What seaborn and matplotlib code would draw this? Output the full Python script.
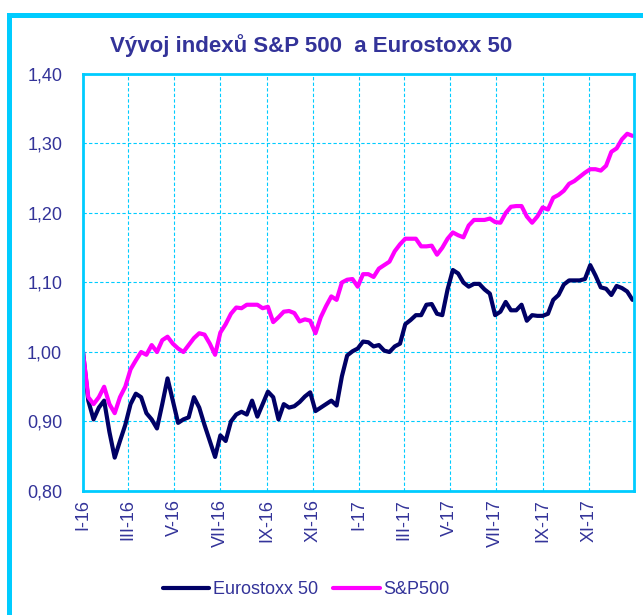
import numpy as np
import pandas as pd
import matplotlib
matplotlib.use('Agg')
import matplotlib.pyplot as plt
import matplotlib.dates as mdates
from matplotlib import font_manager
from matplotlib.patches import Rectangle
import seaborn as sns

# weekly index values, normalised to 1 at start of 2016
eurostoxx = [
    1.000, 0.930, 0.903, 0.920, 0.930, 0.885, 0.848, 0.872, 0.895, 0.925,
    0.940, 0.935, 0.912, 0.903, 0.890, 0.925, 0.962, 0.930, 0.898, 0.903,
    0.906, 0.935, 0.920, 0.895, 0.872, 0.849, 0.880, 0.872, 0.900, 0.910,
    0.914, 0.910, 0.930, 0.907, 0.925, 0.943, 0.935, 0.903, 0.925, 0.920,
    0.922, 0.928, 0.936, 0.942, 0.915, 0.920, 0.925, 0.930, 0.923, 0.965,
    0.995, 1.001, 1.005, 1.015, 1.014, 1.008, 1.010, 1.002, 1.000, 1.008,
    1.012, 1.040, 1.046, 1.053, 1.053, 1.068, 1.069, 1.055, 1.053, 1.090,
    1.118, 1.113, 1.100, 1.094, 1.098, 1.098, 1.090, 1.084, 1.053, 1.058,
    1.072, 1.060, 1.060, 1.068, 1.045, 1.053, 1.052, 1.052, 1.055, 1.075,
    1.082, 1.097, 1.103, 1.103, 1.103, 1.105, 1.125, 1.110, 1.093, 1.091,
    1.082, 1.095, 1.092, 1.087, 1.075]
sp500 = [
    1.000, 0.935, 0.925, 0.935, 0.950, 0.925, 0.912, 0.935, 0.950, 0.975,
    0.988, 1.000, 0.996, 1.010, 1.000, 1.017, 1.022, 1.012, 1.005, 1.000,
    1.010, 1.020, 1.027, 1.025, 1.012, 0.996, 1.028, 1.040, 1.055, 1.064,
    1.063, 1.068, 1.068, 1.068, 1.063, 1.065, 1.043, 1.050, 1.058, 1.059,
    1.056, 1.044, 1.047, 1.045, 1.027, 1.050, 1.066, 1.080, 1.075, 1.100,
    1.104, 1.105, 1.094, 1.112, 1.112, 1.108, 1.120, 1.125, 1.130, 1.145,
    1.155, 1.163, 1.163, 1.163, 1.152, 1.152, 1.153, 1.140, 1.150, 1.163,
    1.172, 1.168, 1.165, 1.182, 1.190, 1.190, 1.190, 1.192, 1.187, 1.186,
    1.200, 1.209, 1.210, 1.210, 1.195, 1.186, 1.195, 1.208, 1.205, 1.222,
    1.226, 1.232, 1.242, 1.246, 1.252, 1.258, 1.263, 1.263, 1.261, 1.268,
    1.288, 1.293, 1.306, 1.314, 1.311]
series_names = ['Eurostoxx 50', 'S&P500']

month_ticks = ['2016-01-01', '2016-03-01', '2016-05-01', '2016-07-01',
               '2016-09-01', '2016-11-01', '2017-01-01', '2017-03-01',
               '2017-05-01', '2017-07-01', '2017-09-01', '2017-11-01']
month_labels = ['I-16', 'III-16', 'V-16', 'VII-16', 'IX-16', 'XI-16',
                'I-17', 'III-17', 'V-17', 'VII-17', 'IX-17', 'XI-17']
y_ticks = [0.8, 0.9, 1.0, 1.1, 1.2, 1.3, 1.4]
y_labels = ['0,80', '0,90', '1,00', '1,10', '1,20', '1,30', '1,40']

title = 'Vývoj indexů S&P 500  a Eurostoxx 50'

NAVY = '#000066'
PINK = '#FF00FF'
CYAN = '#00CCFF'
TEXT = '#333399'

sns.set_style('white')
plt.rcParams['font.family'] = ['Liberation Sans', 'DejaVu Sans']

dates = pd.date_range('2016-01-01', periods=len(eurostoxx), freq='7D')
df = pd.DataFrame({'date': dates, series_names[0]: eurostoxx, series_names[1]: sp500})
df = df.melt(id_vars='date', var_name='index', value_name='value')

fig = plt.figure(figsize=(6.43, 6.15), dpi=100)
ax = fig.add_axes([83 / 643, 1 - 491 / 615, 551 / 643, 417 / 615])

sns.lineplot(data=df, x='date', y='value', hue='index', hue_order=series_names,
             palette=[NAVY, PINK], linewidth=3, ax=ax)
handles, labels = ax.get_legend_handles_labels()
ax.get_legend().remove()

ax.set_xlim(mdates.date2num(pd.Timestamp('2016-01-01')),
            mdates.date2num(pd.Timestamp('2017-12-31')))
ax.set_ylim(0.8, 1.4)
ax.set_xticks(mdates.date2num(pd.to_datetime(month_ticks)))
ax.set_xticklabels(month_labels, rotation=90, fontsize=13, color=TEXT)
ax.set_yticks(y_ticks)
ax.set_yticklabels(y_labels, fontsize=13, color=TEXT)
ax.set_xlabel('')
ax.set_ylabel('')
ax.tick_params(axis='x', length=4, width=1.2, color=CYAN, pad=2, direction='out')
ax.tick_params(axis='y', length=4, width=1.2, color=CYAN, pad=11, direction='out')
ax.grid(True, color=CYAN, linestyle=(0, (3, 2)), linewidth=0.8)
for side in ax.spines.values():
    side.set_color(CYAN)
    side.set_linewidth(2)
    side.set_visible(True)

# title: narrow bold face if present, otherwise smaller regular width
names = {f.name for f in font_manager.fontManager.ttflist}
if 'Liberation Sans Narrow' in names:
    tfam, tsize = ['Liberation Sans Narrow', 'DejaVu Sans'], 19
elif 'Arial Narrow' in names:
    tfam, tsize = ['Arial Narrow', 'DejaVu Sans'], 19
else:
    tfam, tsize = ['Liberation Sans', 'DejaVu Sans'], 16
fig.text(110 / 643, 1 - 52 / 615, title, family=tfam, fontsize=tsize,
         fontweight='bold', color=TEXT, ha='left', va='baseline')

fig.legend(handles, labels, loc='center', bbox_to_anchor=(306 / 643, 1 - 590 / 615),
           ncol=2, frameon=False, fontsize=13, labelcolor=TEXT,
           handlelength=2.6, handletextpad=0.2, columnspacing=0.8)

# outer frame
fig.patches.append(Rectangle((9 / 643, -0.2), 1.2, 0.2 + 1 - 14.5 / 615,
                             transform=fig.transFigure, fill=False,
                             edgecolor=CYAN, linewidth=3.6))

fig.savefig('out.png', dpi=100)
